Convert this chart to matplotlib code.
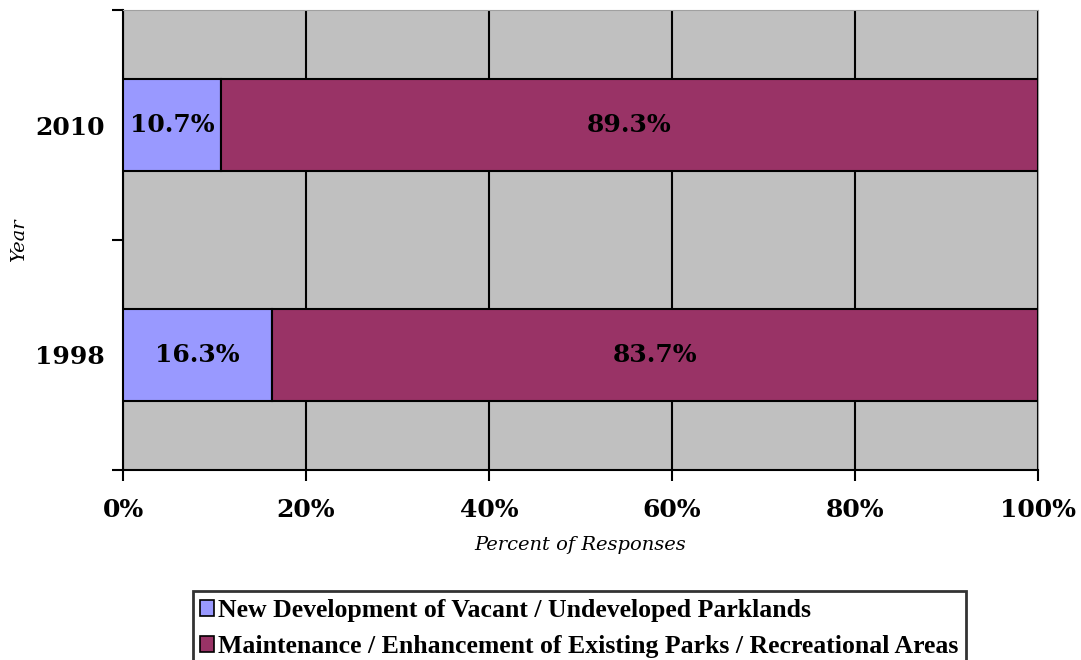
import matplotlib.pyplot as plt
from matplotlib.ticker import FixedLocator, PercentFormatter
from matplotlib.patches import Patch

# Data
years = ['1998', '2010']
new_dev = [16.3, 10.7]
maintenance = [83.7, 89.3]
series_names = ['New Development of Vacant / Undeveloped Parklands',
                'Maintenance / Enhancement of Existing Parks / Recreational Areas']
colors = ['#9999FF', '#993366']

fig = plt.figure(figsize=(10.81, 6.6), dpi=100)
ax = fig.add_axes([0.1138, 0.2879, 0.8464, 0.6969])
ax.set_facecolor('#C0C0C0')

ypos = list(range(len(years)))
ax.barh(ypos, new_dev, height=0.4, color=colors[0], edgecolor='black', linewidth=1.5, zorder=3)
ax.barh(ypos, maintenance, left=new_dev, height=0.4, color=colors[1], edgecolor='black',
        linewidth=1.5, zorder=3)

# bar labels
for i in ypos:
    ax.text(new_dev[i] / 2, i, f'{new_dev[i]:.1f}%', ha='center', va='center',
            fontsize=18, fontweight='bold', family='DejaVu Serif', zorder=4)
    ax.text(new_dev[i] + maintenance[i] / 2, i, f'{maintenance[i]:.1f}%', ha='center', va='center',
            fontsize=18, fontweight='bold', family='DejaVu Serif', zorder=4)

ax.set_xlim(0, 100)
ax.set_ylim(-0.5, len(years) - 0.5)
ax.xaxis.set_major_locator(FixedLocator([0, 20, 40, 60, 80, 100]))
ax.xaxis.set_major_formatter(PercentFormatter(decimals=0))
ax.grid(axis='x', color='black', linewidth=1.5, zorder=1)
ax.set_axisbelow(True)

ax.set_yticks(ypos)
ax.set_yticklabels(years)
ax.yaxis.set_minor_locator(FixedLocator([-0.5, 0.5, 1.5]))
ax.tick_params(axis='y', which='major', length=0, pad=13)
ax.tick_params(axis='y', which='minor', length=8, width=1.5, direction='out')
ax.tick_params(axis='x', length=8, width=1.5, direction='out', pad=12)

for lab in ax.get_xticklabels() + ax.get_yticklabels():
    lab.set_fontsize(18)
    lab.set_fontweight('bold')
    lab.set_family('DejaVu Serif')

ax.spines['left'].set_linewidth(1.5)
ax.spines['bottom'].set_linewidth(1.5)
ax.spines['top'].set_color('#A0A0A0')
ax.spines['right'].set_color('#A0A0A0')

ax.set_xlabel('Percent of Responses', fontsize=14, style='italic', family='DejaVu Serif', labelpad=10)
ax.set_ylabel('Year', fontsize=14, style='italic', family='DejaVu Serif', labelpad=5)

handles = [Patch(facecolor=colors[0], edgecolor='black', linewidth=1.2),
           Patch(facecolor=colors[1], edgecolor='black', linewidth=1.2)]
leg = fig.legend(handles, series_names, loc='upper center', bbox_to_anchor=(0.536, 0.104),
                 ncol=1, frameon=True, fancybox=False, edgecolor='black',
                 prop={'family': 'Liberation Serif', 'weight': 'bold', 'size': 18.5},
                 handlelength=0.55, handleheight=0.55, handletextpad=0.15, labelspacing=0.5,
                 borderpad=0.3, borderaxespad=0)
leg.get_frame().set_linewidth(2)

fig.savefig('out.png', dpi=100)
